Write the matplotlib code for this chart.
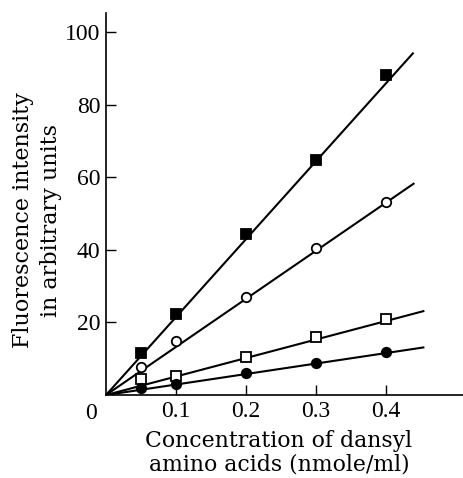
import numpy as np
import matplotlib.pyplot as plt

# concentration (nmole/ml) where points were measured
conc = [0.05, 0.1, 0.2, 0.3, 0.4]

# fluorescence readings, one list per amino acid
filled_sq = [11.5, 22.3, 44.3, 64.7, 88.2]
open_circ = [7.6, 14.8, 27.1, 40.4, 53.1]
open_sq = [4.3, 5.2, 10.6, 15.9, 20.9]
filled_circ = [1.8, 2.9, 6.0, 8.9, 11.8]

# fitted lines run from the origin to these end points
line_x = [[0, 0.438], [0, 0.439], [0, 0.453], [0, 0.453]]
line_y = [[0, 94.1], [0, 58.2], [0, 23.1], [0, 13.1]]

xticks = [0.1, 0.2, 0.3, 0.4]
yticks = [20, 40, 60, 80, 100]

tickfont = 'Liberation Serif'
labfont = 'DejaVu Serif'

fig = plt.figure(figsize=(4.64, 4.78), dpi=100)
ax = fig.add_axes([0.2284, 0.1736, 0.7716, 0.799])

for lx, ly in zip(line_x, line_y):
    ax.plot(lx, ly, color='black', lw=1.5, zorder=2)

mk = dict(color='black', ls='none', markeredgewidth=1.3, zorder=3)
ax.plot(conc, filled_sq, marker='s', markersize=7.5, markerfacecolor='black', **mk)
ax.plot(conc, open_circ, marker='o', markersize=6.8, markerfacecolor='white', **mk)
ax.plot(conc, open_sq, marker='s', markersize=7.5, markerfacecolor='white', **mk)
ax.plot(conc, filled_circ, marker='o', markersize=6.8, markerfacecolor='black', **mk)

ax.set_xlim(0, 0.511)
ax.set_ylim(0, 105.2)
ax.spines['top'].set_visible(False)
ax.spines['right'].set_visible(False)
ax.spines['left'].set_linewidth(1.2)
ax.spines['bottom'].set_linewidth(1.2)

ax.set_xticks(xticks)
ax.set_xticklabels(['0.1', '0.2', '0.3', '0.4'], fontfamily=tickfont, fontsize=17)
ax.set_yticks(yticks)
ax.set_yticklabels([str(v) for v in yticks], fontfamily=tickfont, fontsize=17)
ax.tick_params(direction='in', length=7, width=1, pad=4)

ax.annotate('0', xy=(0, 0), xytext=(-11, -6), textcoords='offset points',
            ha='center', va='top', fontfamily=tickfont, fontsize=17)

ax.set_xlabel('Concentration of dansyl\namino acids (nmole/ml)',
              fontfamily=labfont, fontsize=15.8, linespacing=1.05)
ax.xaxis.set_label_coords(0.483, -0.092)
ax.set_ylabel('Fluorescence intensity\nin arbitrary units',
              fontfamily=labfont, fontsize=16, linespacing=1.35)
ax.yaxis.set_label_coords(-0.123, 0.458)

fig.savefig('out.png', dpi=100)
